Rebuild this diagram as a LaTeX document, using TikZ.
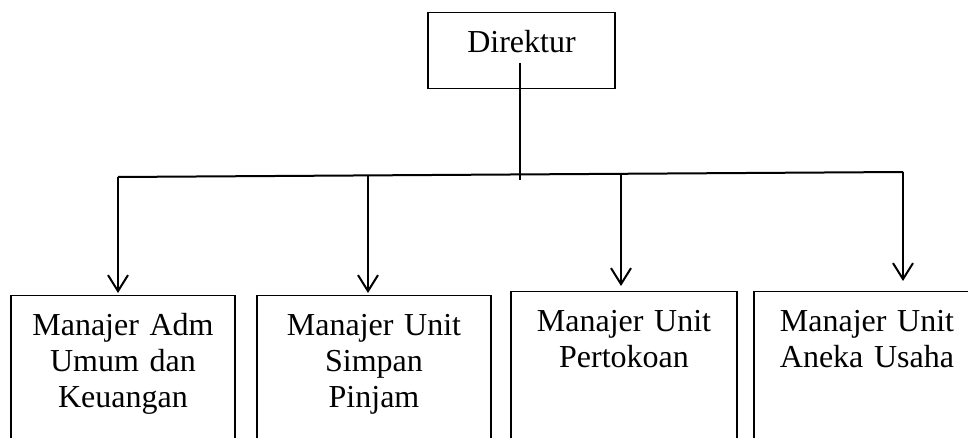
\documentclass[tikz,border=0pt]{standalone}
\usepackage{fontspec}
\setmainfont{Liberation Serif}
\usetikzlibrary{arrows.meta}
\tikzset{
    kotak/.style={draw, line width=0.6pt, inner sep=0pt, align=center, anchor=north,
        text height=20pt, font=\fontsize{16}{18}\selectfont},
    garis/.style={line width=1pt},
    panah/.style={garis, -{Straight Barb[length=8pt,width=10pt]}},
}
\begin{document}
\begin{tikzpicture}[x=0.5pt,y=-0.5pt]
    \useasboundingbox (0,0) rectangle (968,438);
    \clip (0,0) rectangle (968,438);
    %Direktur
    \node[kotak, text width=93.5pt, text depth=18pt] (dir) at (521.5,12) {Direktur};
    %Manajer
    \node[kotak, text width=112pt, text depth=100pt] (m1) at (123,295) {Manajer Adm\\Umum dan\\Keuangan};
    \node[kotak, text width=117pt, text depth=100pt] (m2) at (374,295) {Manajer Unit\\Simpan\\Pinjam};
    \node[kotak, text width=113pt, text depth=100pt] (m3) at (624,291) {Manajer Unit\\Pertokoan};
    \node[kotak, text width=113pt, text depth=100pt] (m4) at (867,291) {Manajer Unit\\Aneka Usaha};
    %Garis dari Direktur
    \coordinate (atas) at (520,63);
    \coordinate (bawah) at (520,180);
    \draw[garis] (atas) -- (bawah);
    %Garis horizontal
    \coordinate (b1) at (118,177);
    \coordinate (b2) at (368,175.4);
    \coordinate (b3) at (621,173.8);
    \coordinate (b4) at (903,172);
    \draw[garis] (b1) -- (b4);
    %Panah ke Manajer
    \foreach \i/\s in {1/1,2/1,3/2.5,4/5}
        \draw[panah, shorten >=\s pt] (b\i) -- (b\i |- m\i.north);
\end{tikzpicture}
\end{document}
